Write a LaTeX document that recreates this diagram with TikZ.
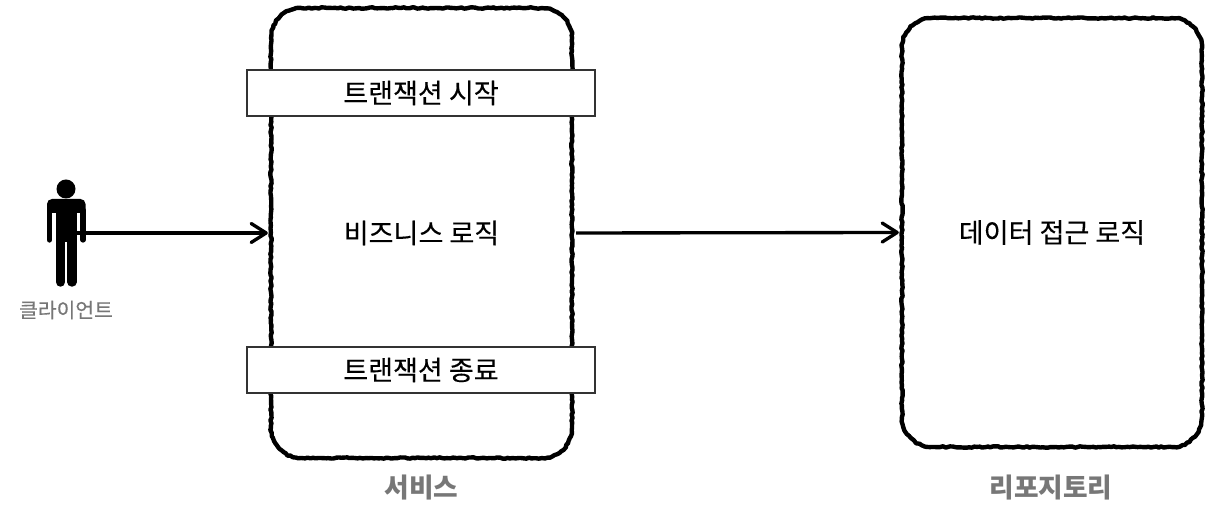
\documentclass[tikz,border=0pt]{standalone}
\usepackage{fontspec}
\setmainfont{Noto Sans CJK KR}[FakeBold=.25]
\newfontfamily\lightfont{Noto Sans CJK KR}
\usepackage{tikz}
\usetikzlibrary{arrows.meta,decorations.pathmorphing}
\definecolor{labelgray}{HTML}{777777}
\definecolor{bandline}{HTML}{333333}
\tikzset{
	layerbox/.style={inner sep=0,outer sep=0,font=\fontsize{15.4}{18}\selectfont},
	roughline/.style={draw=black,line width=2.5pt,line join=round,line cap=round,
		decorate,decoration={random steps,segment length=1.5pt,amplitude=.4pt}},
	bandbox/.style={draw=bandline,fill=white,line width=1pt,minimum width=6.96cm,minimum height=.92cm,
		inner sep=0,font=\fontsize{15.4}{18}\selectfont},
	calllink/.style={line width=1.9pt,shorten >=1.8pt,-{Straight Barb[length=3mm,width=3.8mm,line cap=round,line join=round]}},
	caption/.style={text=labelgray,font=\lightfont\fontsize{15.2}{18}\selectfont\bfseries},
}
\newcommand{\roughoutline}[1]{
	\draw[roughline] ([xshift=.6cm]#1.north west)--([xshift=-.6cm]#1.north east)
		arc[start angle=90,end angle=0,radius=.6]--([yshift=.6cm]#1.south east)
		arc[start angle=0,end angle=-90,radius=.6]--([xshift=.6cm]#1.south west)
		arc[start angle=270,end angle=180,radius=.6]--([yshift=-.6cm]#1.north west)
		arc[start angle=180,end angle=90,radius=.6];
}
\begin{document}
\begin{tikzpicture}
	\useasboundingbox (0,0) rectangle (24.56,10.4);
	\node (service) at (8.43,5.74) [layerbox,minimum width=6.02cm,minimum height=9cm] {비즈니스 로직};
	\node (repository) at (21.04,5.75) [layerbox,minimum width=6cm,minimum height=8.58cm] {데이터 접근 로직};
	\roughoutline{service}
	\roughoutline{repository}
	\node (txstart) at (8.42,8.54) [bandbox] {트랜잭션 시작};
	\node (txend) at (8.42,3) [bandbox] {트랜잭션 종료};
	\node (servicename) at (8.43,.64) [caption] {서비스};
	\node (repositoryname) at (21.02,.64) [caption] {리포지토리};
	\node (clientname) at (1.32,4.2) [text=labelgray,font=\fontsize{11.6}{14}\selectfont] {클라이언트};
	% person
	\fill (1.32,6.62) circle (.19);
	\fill[rounded corners=.1cm] (.94,6.42) rectangle (1.71,5.9);
	\fill (1.11,6.2) rectangle (1.53,5.56);
	\draw[line width=3pt,line cap=round] (.986,6.2)--(.986,5.6);
	\draw[line width=3pt,line cap=round] (1.66,6.2)--(1.66,5.6);
	\draw[line width=5.4pt,line cap=round] (1.21,5.7)--(1.21,4.76);
	\draw[line width=5.4pt,line cap=round] (1.44,5.7)--(1.44,4.76);
	\fill[white] (1.04,6.14) rectangle (1.11,5.4);
	\fill[white] (1.535,6.14) rectangle (1.6,5.4);
	\coordinate (client) at (1.53,5.74);
	\draw[calllink] (client)--(service.west);
	\draw[calllink] ([xshift=.08cm]service.east)--(repository.west);
\end{tikzpicture}
\end{document}
